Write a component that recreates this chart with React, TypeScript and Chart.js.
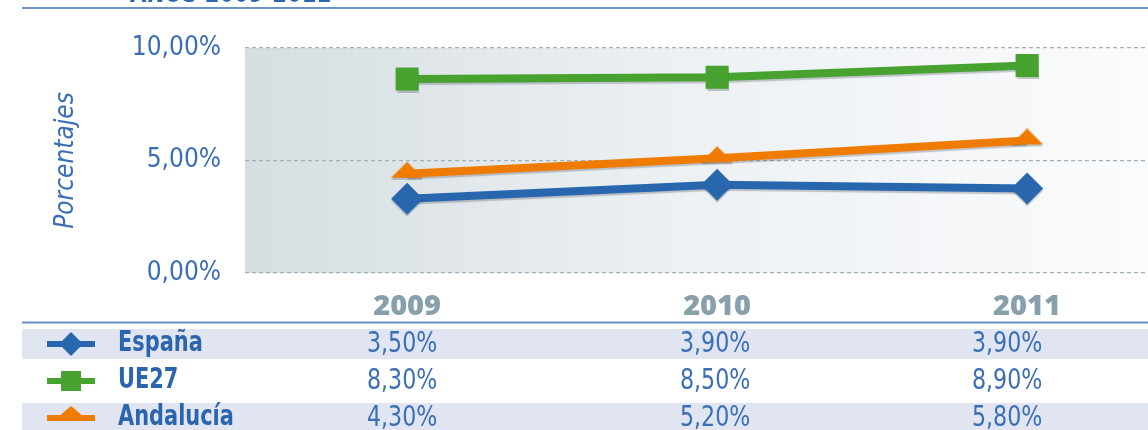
import React, { useEffect, useRef } from 'react';
import { Chart, registerables } from 'chart.js';

Chart.register(...registerables);

// ---- data ----
const years = [2009, 2010, 2011];
const seriesNames = ['España', 'UE27', 'Andalucía'];
// values as drawn in the plot
const espanaPlot = [3.3, 3.92, 3.76];
const ue27Plot = [8.62, 8.7, 9.22];
const andaluciaPlot = [4.41, 5.1, 5.89];
// values printed in the data table
const espanaTable = [3.5, 3.9, 3.9];
const ue27Table = [8.3, 8.5, 8.9];
const andaluciaTable = [4.3, 5.2, 5.8];
const yTicks = [0, 5, 10];
const titleText = 'AÑOS 2009-2011';
const axisTitle = 'Porcentajes';

const BLUE = '#2866ad';
const GREEN = '#47a22f';
const ORANGE = '#ef7c00';
const TEXT_BLUE = '#2b65ae';
const TICK_BLUE = '#3a6fb6';
const YEAR_GRAY = '#87a0ac';
const NARROW = '"Liberation Sans Narrow", "DejaVu Sans Condensed", "Roboto Condensed", "Liberation Sans", sans-serif';

const fmt = (v: number) => v.toFixed(2).replace('.', ',') + '%';

function makeTriangle(color: string, w: number, up: number, down: number) {
  const c = document.createElement('canvas');
  const h = 2 * Math.max(up, down);
  c.width = w;
  c.height = h;
  const g = c.getContext('2d')!;
  const cy = h / 2;
  g.fillStyle = color;
  g.beginPath();
  g.moveTo(w / 2, cy - up);
  g.lineTo(w, cy + down);
  g.lineTo(0, cy + down);
  g.closePath();
  g.fill();
  return c;
}

const bgPlugin = {
  id: 'bgGradient',
  beforeDraw(chart: any) {
    const { ctx, chartArea: a } = chart;
    const grad = ctx.createLinearGradient(a.left, 0, a.left + 900, 0);
    grad.addColorStop(0, '#d6dee2');
    grad.addColorStop(0.5, '#edf1f4');
    grad.addColorStop(1, '#fafbfc');
    ctx.save();
    ctx.fillStyle = grad;
    ctx.fillRect(a.left, a.top, a.right - a.left, a.bottom - a.top);
    ctx.restore();
  },
};

const shadowPlugin = {
  id: 'lineShadow',
  beforeDatasetDraw(chart: any) {
    const ctx = chart.ctx;
    ctx.save();
    ctx.shadowColor = 'rgba(70,80,90,0.3)';
    ctx.shadowOffsetY = 2;
    ctx.shadowBlur = 1;
  },
  afterDatasetDraw(chart: any) {
    chart.ctx.restore();
  },
};

const rows = [
  { name: seriesNames[0], values: espanaTable, color: BLUE, marker: 'diamond' },
  { name: seriesNames[1], values: ue27Table, color: GREEN, marker: 'square' },
  { name: seriesNames[2], values: andaluciaTable, color: ORANGE, marker: 'triangle' },
];

// draw text horizontally squeezed (narrow face)
function narrowText(ctx: any, text: string, x: number, y: number, align: 'left' | 'center' | 'right', sx: number) {
  ctx.save();
  ctx.translate(x, y);
  ctx.scale(sx, 1);
  ctx.textAlign = align;
  ctx.fillText(text, 0, 0);
  ctx.restore();
}

const tablePlugin = {
  id: 'dataTable',
  afterDraw(chart: any) {
    const { ctx } = chart;
    const xs = chart.scales.x;
    const W = chart.width;
    const L = 22;
    const colNudge = [-5, -2, -20];
    ctx.save();
    // top rule + cut title
    ctx.fillStyle = TEXT_BLUE;
    ctx.font = `bold 28px ${NARROW}`;
    ctx.textBaseline = 'alphabetic';
    narrowText(ctx, titleText, 130, 2, 'left', 0.84);
    ctx.strokeStyle = '#6a8fc9';
    ctx.lineWidth = 2;
    ctx.beginPath();
    ctx.moveTo(L, 8);
    ctx.lineTo(W, 8);
    ctx.stroke();
    // header rule
    ctx.beginPath();
    ctx.moveTo(L, 322.5);
    ctx.lineTo(W, 322.5);
    ctx.stroke();

    const centers = [344, 381, 418];
    rows.forEach((r, i) => {
      const cy = centers[i];
      if (i % 2 === 0) {
        ctx.fillStyle = '#e1e5f1';
        ctx.fillRect(L, cy - 15, W - L, 30);
      }
      // legend line
      ctx.strokeStyle = r.color;
      ctx.lineWidth = 6;
      ctx.beginPath();
      ctx.moveTo(47, cy);
      ctx.lineTo(95, cy);
      ctx.stroke();
      ctx.fillStyle = r.color;
      ctx.beginPath();
      if (r.marker === 'diamond') {
        ctx.moveTo(71, cy - 12);
        ctx.lineTo(83, cy);
        ctx.lineTo(71, cy + 12);
        ctx.lineTo(59, cy);
        ctx.closePath();
        ctx.fill();
      } else if (r.marker === 'square') {
        ctx.fillRect(61, cy - 10, 20, 20);
      } else {
        ctx.moveTo(71, cy - 12);
        ctx.lineTo(84, cy - 1);
        ctx.lineTo(58, cy - 1);
        ctx.closePath();
        ctx.fill();
      }
      // name
      ctx.fillStyle = TEXT_BLUE;
      ctx.font = `bold 28px ${NARROW}`;
      ctx.textBaseline = 'middle';
      narrowText(ctx, r.name, 118, cy, 'left', 0.83);
      // values
      ctx.font = `29px ${NARROW}`;
      ctx.fillStyle = TICK_BLUE;
      r.values.forEach((v, j) => {
        narrowText(ctx, fmt(v), xs.getPixelForValue(years[j]) + colNudge[j], cy, 'center', 0.85);
      });
    });
    ctx.restore();
  },
};

export default function App() {
  const ref = useRef<HTMLCanvasElement>(null);
  useEffect(() => {
    document.body.style.margin = '0';
    const tri = makeTriangle(ORANGE, 32, 12, 4);
    const mk = (label: string, data: number[], color: string, pointStyle: any, radius: number) => ({
      label,
      data: years.map((y, i) => ({ x: y, y: data[i] })),
      borderColor: color,
      backgroundColor: color,
      borderWidth: 8,
      pointStyle,
      pointRadius: radius,
      pointHoverRadius: radius,
      pointBorderWidth: 0,
      pointBackgroundColor: color,
      tension: 0,
    });
    const chart = new Chart(ref.current!, {
      type: 'line',
      data: {
        datasets: [
          mk(seriesNames[2], andaluciaPlot, ORANGE, tri, 16),
          mk(seriesNames[0], espanaPlot, BLUE, 'rectRot', 16),
          mk(seriesNames[1], ue27Plot, GREEN, 'rect', 16.3),
        ],
      },
      options: {
        responsive: false,
        animation: false,
        layout: { autoPadding: false, padding: { left: 0, top: 48, right: 0, bottom: 0 } },
        plugins: { legend: { display: false }, tooltip: { enabled: false }, title: { display: false } },
        scales: {
          x: {
            type: 'linear',
            min: 2008.477,
            max: 2011.39,
            afterBuildTicks: (s: any) => { s.ticks = years.map((v) => ({ value: v })); },
            afterFit: (s: any) => { s.height = 157; },
            grid: { display: false, drawTicks: false },
            border: { display: false },
            ticks: {
              autoSkip: false,
              padding: 16,
              color: YEAR_GRAY,
              font: { family: '"Open Sans", "DejaVu Sans", sans-serif', size: 29, weight: 800 },
              callback: (v: any) => String(v),
            },
          },
          y: {
            min: 0,
            max: 10,
            afterBuildTicks: (s: any) => { s.ticks = yTicks.map((v) => ({ value: v })); },
            afterFit: (s: any) => { s.width = 245; },
            grid: { color: '#9eb0ba', lineWidth: 1.3, drawTicks: false },
            border: { display: false, dash: [4, 3] },
            ticks: {
              padding: 24,
              color: TICK_BLUE,
              font: { family: NARROW, size: 26 },
              callback: (v: any) => fmt(Number(v)),
            },
            title: {
              display: true,
              text: axisTitle,
              color: TICK_BLUE,
              font: { family: NARROW, size: 26, style: 'italic' },
              padding: { top: 50.5, bottom: 0 },
            },
          },
        },
      },
      plugins: [bgPlugin, shadowPlugin, tablePlugin],
    } as any);
    return () => chart.destroy();
  }, []);
  return (
    <div style={{ width: 1148, height: 430, overflow: 'hidden' }}>
      <canvas ref={ref} width={1148} height={430} style={{ display: 'block' }} />
    </div>
  );
}
